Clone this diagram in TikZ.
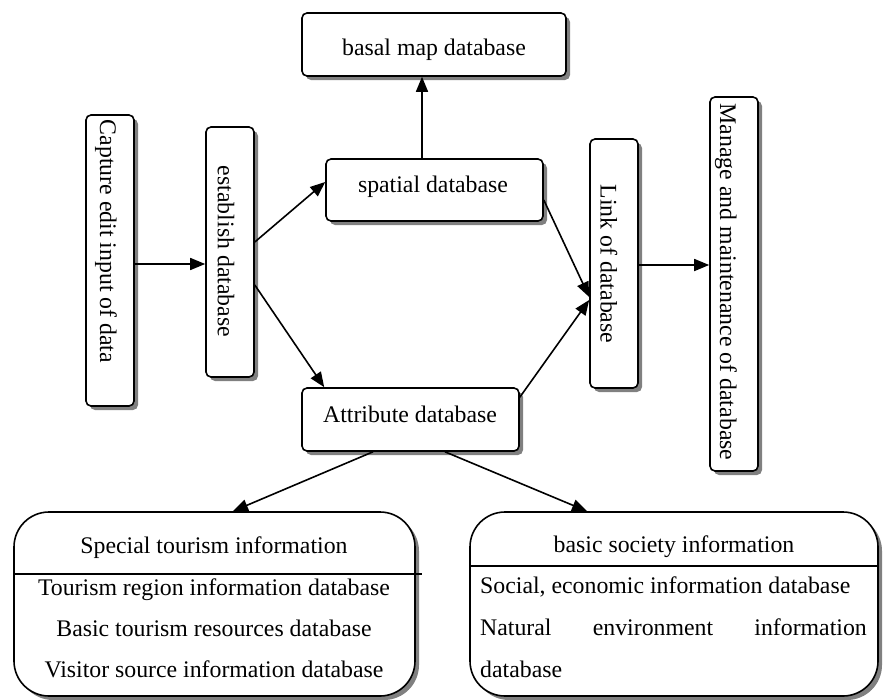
\documentclass[tikz,border=0pt]{standalone}
\usepackage{fontspec}
\setmainfont{Liberation Serif}
\usetikzlibrary{shadows,arrows.meta,calc}
\begin{document}
\begin{tikzpicture}[x=1pt,y=-1pt,font=\fontsize{23.8}{28}\selectfont,
  box/.style={draw,line width=1.6pt,rounded corners=5pt,fill=white,inner sep=0pt,
    drop shadow={shadow xshift=4pt,shadow yshift=-4pt,fill=black!50,opacity=1}},
  bigbox/.style={box,rounded corners=35pt},
  arr/.style={line width=1.6pt,-{Triangle[length=15pt,width=12pt]}},
  txt/.style={inner sep=0pt,anchor=base}]
\useasboundingbox (0,0) rectangle (888,699);
% boxes
\node[box,minimum width=48pt,minimum height=291pt] (cap) at (110,260.5) {};
\node[box,minimum width=48pt,minimum height=250pt] (est) at (230,252) {};
\node[box,minimum width=217pt,minimum height=62pt] (spa) at (434.5,190) {};
\node[box,minimum width=264pt,minimum height=63pt] (bas) at (434,44.5) {};
\node[box,minimum width=217pt,minimum height=63pt] (att) at (410.5,419.5) {};
\node[box,minimum width=48pt,minimum height=249pt] (lnk) at (614,263.5) {};
\node[box,minimum width=48pt,minimum height=374pt] (man) at (734,284) {};
\node[bigbox,minimum width=401pt,minimum height=184pt] (spc) at (214.5,604) {};
\node[bigbox,minimum width=408pt,minimum height=184pt] (soc) at (674,604) {};
% texts
\node[rotate=-90,inner sep=0pt] (capt) at (106,241.5) {Capture edit input of data};
\node[rotate=-90,inner sep=0pt] (estt) at (226,251.5) {establish database};
\node[rotate=-90,inner sep=0pt] (lnkt) at (609,264) {Link of database};
\node[rotate=-90,inner sep=0pt] (mant) at (726,282) {Manage and maintenance of database};
\node[txt] (bast) at (434,55) {basal map database};
\node[txt] (spat) at (433,192) {spatial database};
\node[txt] (attt) at (410,422) {Attribute database};
\node[txt] (spc0) at (214,553) {Special tourism information};
\node[txt] (spc1) at (214,595) {Tourism region information database};
\node[txt] (spc2) at (214,636) {Basic tourism resources database};
\node[txt] (spc3) at (214,677) {Visitor source information database};
\node[txt] (soc0) at (674,552) {basic society information};
\node[txt,anchor=base west] (soc1) at (480,593) {Social, economic information database};
\node[txt,anchor=base west] (soc2a) at (480,635) {Natural};
\node[txt] (soc2b) at (653,635) {environment};
\node[txt,anchor=base east] (soc2c) at (867,635) {information};
\node[txt,anchor=base west] (soc3) at (480,677) {database};
% dividers
\draw[line width=1.6pt] ($(spc.north west)+(0,63)$) -- ++(409,0);
\draw[line width=1.6pt] ($(soc.north west)+(0,55)$) -- ($(soc.north east)+(0,55)$);
% arrows
\draw[arr] ($(cap.east)+(0,3.5)$) -- ($(est.west)+(0,12)$);
\draw[arr] ($(est.east)+(0,-10)$) -- ($(spa.west)+(0,-8)$);
\draw[arr] ($(est.east)+(0,33)$) -- ($(att.north west)+(23,0)$);
\draw[arr] ($(spa.north)+(-12.5,0)$) -- ($(bas.south)+(-12,0)$);
\draw[arr] ($(spa.east)+(0,10)$) -- ($(lnk.west)+(0,33.5)$);
\draw[arr] ($(att.north east)+(0,10)$) -- ($(lnk.west)+(0,36.5)$);
\draw[arr] ($(lnk.east)+(0,1.5)$) -- ($(man.west)+(0,-19)$);
\draw[arr] ($(att.south)+(-37.5,0)$) -- ($(spc.north)+(18.5,0)$);
\draw[arr] ($(att.south)+(34.5,0)$) -- ($(soc.north)+(-87,0)$);
\end{tikzpicture}
\end{document}
